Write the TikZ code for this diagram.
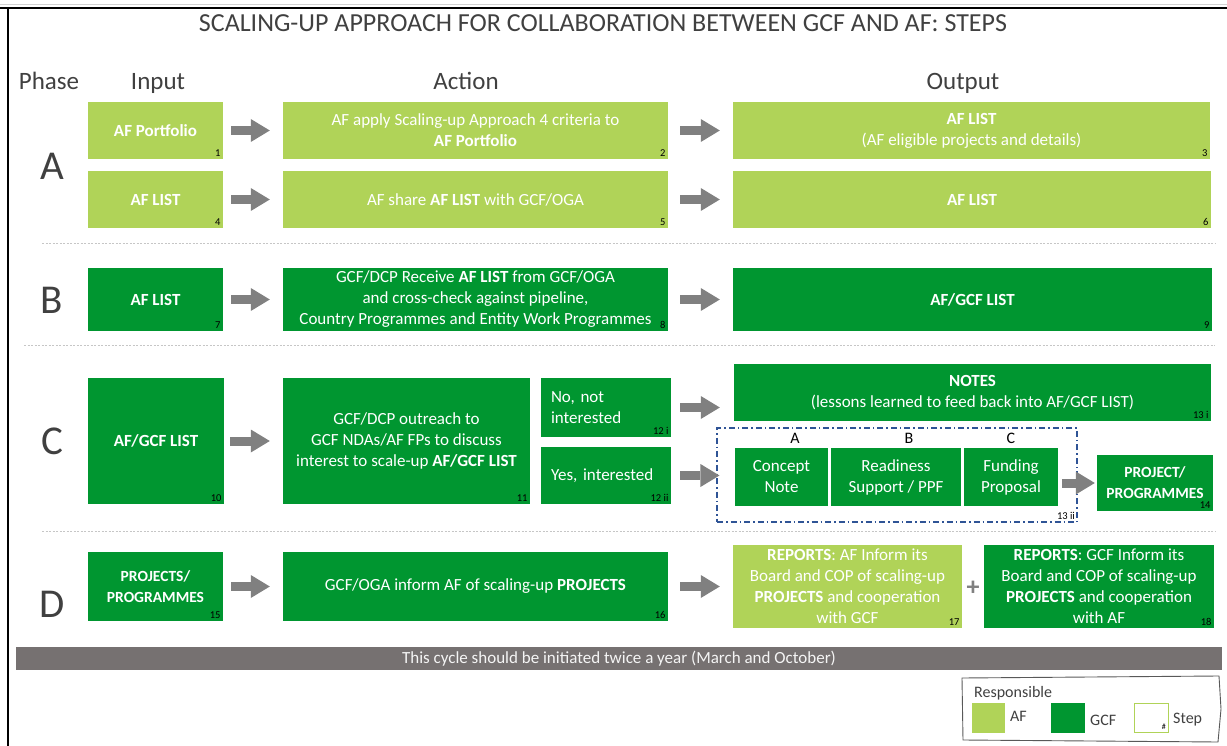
\documentclass[tikz,border=0pt]{standalone}
\usepackage{fontspec}
\setmainfont{Carlito}
\usetikzlibrary{arrows.meta}

\definecolor{afgreen}{RGB}{176,211,88}
\definecolor{gcfgreen}{RGB}{0,150,48}
\definecolor{arrowgray}{RGB}{128,128,128}
\definecolor{bargray}{RGB}{118,113,113}
\definecolor{titlegray}{RGB}{64,64,64}
\definecolor{stageblue}{RGB}{47,84,150}

\frenchspacing

\tikzset{
    afbox/.style={fill=afgreen, text=white, inner sep=0pt, align=center,
        font=\fontsize{17}{21}\selectfont},
    gcfbox/.style={fill=gcfgreen, text=white, inner sep=0pt, align=center,
        font=\fontsize{17}{21}\selectfont},
    stepno/.style={anchor=south east, inner sep=2.5pt, text=black,
        font=\fontsize{10.5}{10.5}\selectfont},
    flow/.style={draw=arrowgray, line width=9pt,
        -{Triangle[length=19pt, width=23pt, line width=0pt]}},
    head/.style={anchor=base, text=titlegray, font=\fontsize{25}{25}\selectfont},
    phase/.style={anchor=base, text=titlegray, font=\fontsize{41}{41}\selectfont},
    sep/.style={draw=gray!45, line width=0.7pt, dash pattern=on 2pt off 1.5pt},
    key/.style={anchor=base west, inner sep=0pt, text=titlegray,
        font=\fontsize{16}{16}\selectfont},
}

\begin{document}
\begin{tikzpicture}[x=1pt, y=1pt]

    \useasboundingbox (0,0) rectangle (1227,-746);

    % page frame
    \draw[gray!35, line width=0.6pt] (0,-4) -- (1227,-4);
    \draw[line width=1.2pt] (0,-8) -- (1227,-8);
    \draw[line width=1.2pt] (8,-8) -- (8,-746);

    % title and column heads
    \node[anchor=base, text=titlegray, font=\fontsize{26}{26}\selectfont] (title) at (603,-32)
        {SCALING-UP APPROACH FOR COLLABORATION BETWEEN GCF AND AF: STEPS};
    \node[head] (hphase) at (49,-90) {Phase};
    \node[head] (hinput) at (158,-90) {Input};
    \node[head] (haction) at (466,-90) {Action};
    \node[head] (houtput) at (963,-90) {Output};

    % phase letters
    \node[phase] (pa) at (52,-180) {A};
    \node[phase] (pb) at (52,-313) {B};
    \node[phase] (pc) at (52,-454) {C};
    \node[phase] (pd) at (52,-617) {D};

    % phase separators
    \draw[sep] (42,-243) -- (1215,-243);
    \draw[sep] (24,-345) -- (1215,-345);
    \draw[sep] (42,-531) -- (1215,-531);

    % phase A
    \node[afbox, minimum width=135pt, minimum height=57pt] (in1) at (155.5,-130.5) {\textbf{AF Portfolio}};
    \node[afbox, minimum width=385pt, minimum height=57pt] (act1) at (475.5,-130.5)
        {AF apply Scaling-up Approach 4 criteria to\\\textbf{AF Portfolio}};
    \node[afbox, minimum width=477pt, minimum height=57pt] (out1) at (971.5,-130.5)
        {\textbf{AF LIST}\\(AF eligible projects and details)};

    \node[afbox, minimum width=135pt, minimum height=57pt] (in2) at (155.5,-199.5) {\textbf{AF LIST}};
    \node[afbox, minimum width=385pt, minimum height=57pt] (act2) at (475.5,-199.5)
        {AF share \textbf{AF LIST} with GCF/OGA};
    \node[afbox, minimum width=478pt, minimum height=57pt] (out2) at (972,-199.5) {\textbf{AF LIST}};

    % phase B
    \node[gcfbox, minimum width=135pt, minimum height=63pt] (inB) at (155.5,-299.5) {\textbf{AF LIST}};
    \node[gcfbox, minimum width=385pt, minimum height=63pt] (actB) at (475.5,-299.5)
        {GCF/DCP Receive \textbf{AF LIST} from GCF/OGA\\and cross-check against pipeline,\\Country Programmes and Entity Work Programmes};
    \node[gcfbox, minimum width=479pt, minimum height=63pt] (outB) at (972.5,-299.5) {\textbf{AF/GCF LIST}};

    % phase C
    \node[gcfbox, minimum width=136pt, minimum height=126pt] (inC) at (156,-441) {\textbf{AF/GCF LIST}};
    \node[gcfbox, minimum width=247pt, minimum height=126pt] (actC) at (406.5,-441)
        {GCF/DCP outreach to\\GCF NDAs/AF FPs to discuss\\interest to scale-up \textbf{AF/GCF LIST}};
    \node[gcfbox, align=left, text width=110pt, minimum width=130pt, minimum height=59pt] (no) at (606,-407.5)
        {No, not\\interested};
    \node[gcfbox, align=left, text width=110pt, minimum width=130pt, minimum height=57pt] (yes) at (606,-475.5)
        {Yes, interested};
    \node[gcfbox, minimum width=477pt, minimum height=57pt] (notes) at (972.5,-392.5)
        {\textbf{NOTES}\\(lessons learned to feed back into AF/GCF LIST)};

    \node[draw=stageblue, line width=1.1pt, dash pattern=on 6pt off 3pt on 1.5pt off 3pt,
        minimum width=360pt, minimum height=94pt] (stage) at (897,-475) {};
    \node[gcfbox, minimum width=93pt, minimum height=58pt] (cn) at (781.5,-477) {Concept\\Note};
    \node[gcfbox, minimum width=130pt, minimum height=58pt] (rs) at (896,-477) {Readiness\\Support / PPF};
    \node[gcfbox, minimum width=94pt, minimum height=58pt] (fp) at (1011,-477) {Funding\\Proposal};
    \node[anchor=base, font=\fontsize{16}{16}\selectfont] (la) at (795,-443) {A};
    \node[anchor=base, font=\fontsize{16}{16}\selectfont] (lb) at (909,-443) {B};
    \node[anchor=base, font=\fontsize{16}{16}\selectfont] (lc) at (1011,-443) {C};
    \node[gcfbox, minimum width=116pt, minimum height=56pt, font=\fontsize{15.5}{21}\selectfont] (proj) at (1155,-483)
        {\textbf{PROJECT/}\\\textbf{PROGRAMMES}};

    % phase D
    \node[gcfbox, minimum width=135pt, minimum height=69pt, font=\fontsize{15.5}{21}\selectfont] (inD) at (155.5,-586.5)
        {\textbf{PROJECTS/}\\\textbf{PROGRAMMES}};
    \node[gcfbox, minimum width=385pt, minimum height=69pt] (actD) at (475.5,-586.5)
        {GCF/OGA inform AF of scaling-up \textbf{PROJECTS}};
    \node[afbox, minimum width=229pt, minimum height=83pt] (repaf) at (847.5,-586.5)
        {\textbf{REPORTS}: AF Inform its\\Board and COP of scaling-up\\\textbf{PROJECTS} and cooperation\\with GCF};
    \node[gcfbox, minimum width=230pt, minimum height=83pt] (repgcf) at (1099,-586.5)
        {\textbf{REPORTS}: GCF Inform its\\Board and COP of scaling-up\\\textbf{PROJECTS} and cooperation\\with AF};
    \node[text=arrowgray, font=\bfseries\fontsize{26}{26}\selectfont] (plus) at (973,-588) {+};

    % step numbers
    \node[stepno] (s1) at (in1.south east) {1};
    \node[stepno] (s2) at (act1.south east) {2};
    \node[stepno] (s3) at (out1.south east) {3};
    \node[stepno] (s4) at (in2.south east) {4};
    \node[stepno] (s5) at (act2.south east) {5};
    \node[stepno] (s6) at (out2.south east) {6};
    \node[stepno] (s7) at (inB.south east) {7};
    \node[stepno] (s8) at (actB.south east) {8};
    \node[stepno] (s9) at (outB.south east) {9};
    \node[stepno] (s10) at (inC.south east) {10};
    \node[stepno] (s11) at (actC.south east) {11};
    \node[stepno] (s12i) at (no.south east) {12 i};
    \node[stepno] (s12ii) at (yes.south east) {12 ii};
    \node[stepno] (s13i) at (notes.south east) {13 i};
    \node[stepno] (s13ii) at (stage.south east) {13 ii};
    \node[stepno] (s14) at (proj.south east) {14};
    \node[stepno] (s15) at (inD.south east) {15};
    \node[stepno] (s16) at (actD.south east) {16};
    \node[stepno] (s17) at (repaf.south east) {17};
    \node[stepno] (s18) at (repgcf.south east) {18};

    % arrows
    \draw[flow, shorten <=8pt, shorten >=13pt] (in1) -- (act1);
    \draw[flow, shorten <=12pt, shorten >=13pt] (act1) -- (out1);
    \draw[flow, shorten <=8pt, shorten >=13pt] (in2) -- (act2);
    \draw[flow, shorten <=12pt, shorten >=13pt] (act2) -- (out2);
    \draw[flow, shorten <=8pt, shorten >=13pt] (inB) -- (actB);
    \draw[flow, shorten <=12pt, shorten >=13pt] (actB) -- (outB);
    \draw[flow, shorten <=6pt, shorten >=13pt] (inC) -- (actC);
    \draw[flow, shorten <=9pt, shorten >=14pt] (no.east) -- (no.east -| notes.west);
    \draw[flow, shorten <=9pt, shorten >=-3pt] (yes.east) -- (yes.east -| stage.west);
    \draw[flow, shorten <=4pt, shorten >=2pt] (proj.west -| fp.east) -- (proj.west);
    \draw[flow, shorten <=8pt, shorten >=13pt] (inD) -- (actD);
    \draw[flow, shorten <=12pt, shorten >=13pt] (actD) -- (repaf);

    % cycle bar
    \node[fill=bargray, text=gray!8, minimum width=1206pt, minimum height=23pt, inner sep=0pt,
        font=\fontsize{17}{17}\selectfont] (cycle) at (619,-658.5)
        {This cycle should be initiated twice a year (March and October)};

    % legend
    \draw[gray!70!black, line width=0.9pt] (962,-678) -- (1219,-676) -- (1221,-709) -- (1218,-742) -- (963,-740) -- cycle;
    \node[key] (kresp) at (974,-697) {Responsible};
    \node[fill=afgreen, minimum width=33pt, minimum height=30pt, inner sep=0pt] (kaf) at (988.5,-718) {};
    \node[key] (kaftext) at (1010,-721) {AF};
    \node[fill=gcfgreen, minimum width=34pt, minimum height=30pt, inner sep=0pt] (kgcf) at (1068,-718) {};
    \node[key] (kgcftext) at (1090,-725) {GCF};
    \node[draw=afgreen, line width=0.9pt, minimum width=34pt, minimum height=29pt, inner sep=0pt] (kstep) at (1151,-717.5) {};
    \node[stepno, font=\fontsize{8}{8}\selectfont] (khash) at (kstep.south east) {\#};
    \node[key] (ksteptext) at (1173,-723) {Step};

\end{tikzpicture}
\end{document}
